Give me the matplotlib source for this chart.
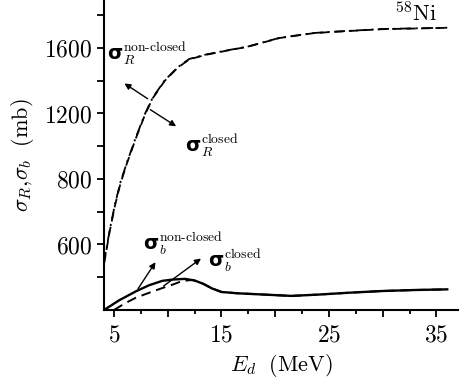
import numpy as np
import matplotlib
matplotlib.use("Agg")
import matplotlib.pyplot as plt
from matplotlib.ticker import FixedLocator, FuncFormatter

plt.rcParams['mathtext.fontset'] = 'cm'
plt.rcParams['font.family'] = ['DejaVu Serif']

# ---- data ----
E_R = [4.07, 4.6, 5.1, 5.6, 6.2, 6.7, 7.0, 7.9, 8.6, 9.7, 10.9, 12.0, 13.6, 15.8, 17.4, 20.4, 23.5, 25.0, 30.0, 36.0]
sigR_nonclosed = [544, 644, 724, 790, 900, 992, 1048, 1200, 1296, 1400, 1480, 1532, 1560, 1588, 1607, 1661, 1690, 1697, 1715, 1723]
sigR_closed = [540, 640, 720, 786, 895, 986, 1042, 1195, 1292, 1397, 1477, 1530, 1558, 1587, 1606, 1660, 1689, 1696, 1714, 1722]

E_b = [4.07, 5.5, 7.1, 8.3, 9.5, 10.5, 11.6, 12.5, 13.3, 14.1, 15.0, 16.5, 19.0, 21.5, 24.0, 27.0, 30.0, 33.0, 36.0]
sigb_nonclosed = [400, 430, 458, 476, 489, 493, 495, 490, 480, 466, 455, 451, 447, 443, 447, 453, 458, 461, 463]
E_b_closed = [5.0, 6.0, 7.0, 8.3, 9.5, 10.5, 11.3, 12.3, 13.3, 14.1, 15.0, 16.5, 19.0, 21.5, 24.0, 27.0, 30.0, 33.0, 36.0]
sigb_closed = [400, 420, 437, 453, 467, 478, 488, 492, 480, 466, 455, 451, 447, 443, 447, 453, 458, 461, 463]

y_major = [600, 800, 1200, 1600]
y_minor = [500, 700, 1000, 1400, 1800]
x_labels = [5, 15, 25, 35]


def fwd(v):
    v = np.asarray(v, dtype=float)
    return np.where(v <= 800, (v - 400) / 200.0, 2 + (v - 800) / 400.0)


def inv(t):
    t = np.asarray(t, dtype=float)
    return np.where(t <= 2, 400 + 200 * t, 800 + 400 * (t - 2))


fig = plt.figure(figsize=(4.65, 3.81), dpi=100)
ax = fig.add_axes([104 / 465, 1 - 310 / 381, (458 - 104) / 465, 310 / 381])
ax.set_yscale('function', functions=(fwd, inv))
ax.set_xlim(4.07, 37.0)
ax.set_ylim(400, 1892)

ax.plot(E_R, sigR_closed, color='black', lw=1.3, dashes=(5, 3))
ax.plot(E_R, sigR_nonclosed, color='black', lw=1.3, dashes=(6, 2.5, 1.2, 2.5))
ax.plot(E_b, sigb_nonclosed, color='black', lw=1.7)
ax.plot(E_b_closed, sigb_closed, color='black', lw=1.4, dashes=(5, 3))

for s in ['top', 'right']:
    ax.spines[s].set_visible(False)
for s in ['left', 'bottom']:
    ax.spines[s].set_linewidth(1.5)

ax.yaxis.set_major_locator(FixedLocator(y_major))
ax.yaxis.set_minor_locator(FixedLocator(y_minor))
ax.xaxis.set_major_locator(FixedLocator(np.arange(5, 37, 5)))
ax.xaxis.set_minor_locator(FixedLocator(np.arange(7.5, 37, 5)))
ax.xaxis.set_major_formatter(FuncFormatter(lambda v, p: f'${int(v)}$' if int(round(v)) in x_labels else ''))
ax.yaxis.set_major_formatter(FuncFormatter(lambda v, p: f'${int(v)}$'))
ax.tick_params(axis='both', which='major', direction='out', length=5, width=1.3, labelsize=17)
ax.tick_params(axis='y', which='minor', direction='out', length=5, width=1.3)
ax.tick_params(axis='x', which='minor', direction='out', length=3, width=1.3)
ax.tick_params(axis='x', pad=5)

ax.set_xlabel(r'$E_d\ \ (\mathrm{MeV})$', fontsize=16, labelpad=4)
ax.set_ylabel(r'$\sigma_R{,}\sigma_b\ \ (\mathrm{mb})$', fontsize=16, labelpad=6)

fig.text(395 / 465, 1 - 21 / 381, r'$^{58}\mathrm{Ni}$', fontsize=16)

lab_kw = dict(fontsize=14, fontweight='bold', family='DejaVu Sans')
ax.text(0.008, 0.805, r'σ$_R^{\mathrm{non}\text{-}\mathrm{closed}}$', transform=ax.transAxes, **lab_kw)
ax.text(0.228, 0.51, r'σ$_R^{\mathrm{closed}}$', transform=ax.transAxes, **lab_kw)
ax.text(0.11, 0.195, r'σ$_b^{\mathrm{non}\text{-}\mathrm{closed}}$', transform=ax.transAxes, **lab_kw)
ax.text(0.295, 0.14, r'σ$_b^{\mathrm{closed}}$', transform=ax.transAxes, **lab_kw)

arrow = dict(arrowstyle='-|>', color='black', lw=1.0, mutation_scale=9)
ax.annotate('', xy=(5.75, 1392), xytext=(8.35, 1280), arrowprops=arrow)
ax.annotate('', xy=(11.0, 1112), xytext=(8.16, 1232), arrowprops=arrow)
ax.annotate('', xy=(9.0, 553), xytext=(7.1, 458), arrowprops=arrow)
ax.annotate('', xy=(13.3, 562), xytext=(9.4, 468), arrowprops=arrow)

fig.savefig('out.png', dpi=100)
